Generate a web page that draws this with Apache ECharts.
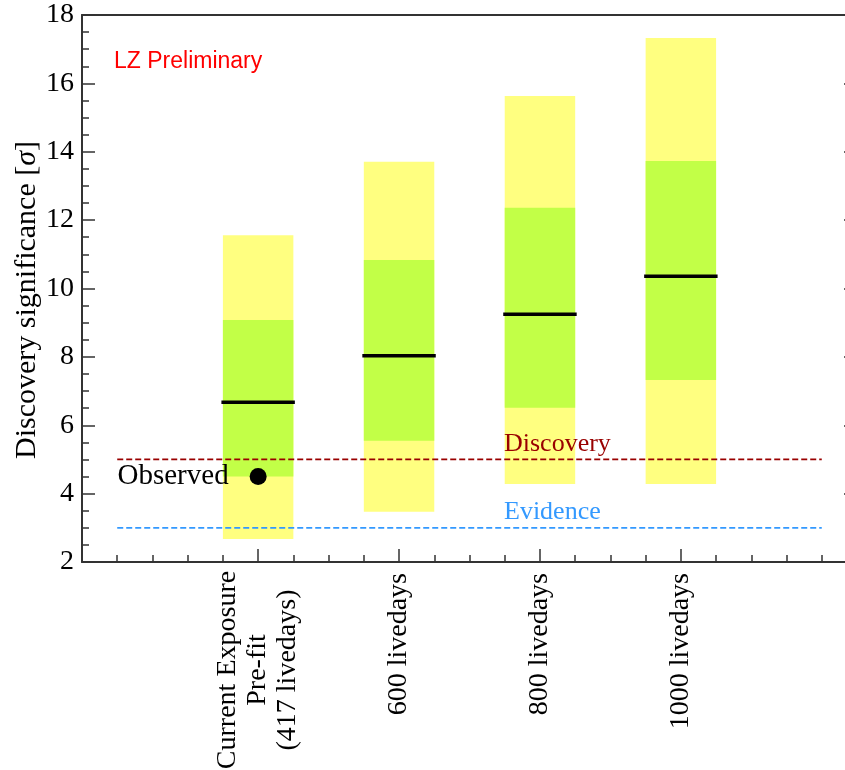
<!DOCTYPE html>
<html>
<head>
<meta charset="utf-8">
<script src="https://cdn.jsdelivr.net/npm/echarts@6/dist/echarts.min.js"></script>
<style>
  html, body { margin: 0; padding: 0; background: #ffffff; }
  #chart { width: 845px; height: 770px; }
</style>
</head>
<body>
<div id="chart"></div>
<script>
// Exposure scenarios and their positions on the x axis
const categories = ['Current Exposure\nPre-fit\n(417 livedays)', '600 livedays', '800 livedays', '1000 livedays'];
const positions = [1, 2, 3, 4];

// Expected discovery significance [sigma]: median and 1/2-sigma bands
const median    = [6.67, 8.03, 9.25, 10.36];
const band1Low  = [4.50, 5.55, 6.51, 7.32];
const band1High = [9.08, 10.83, 12.36, 13.73];
const band2Low  = [2.67, 3.47, 4.28, 4.28];
const band2High = [11.56, 13.71, 15.63, 17.33];

// Observed significance for the current exposure
const observedX = [1];
const observedY = [4.5];

// Reference thresholds
const thresholdNames  = ['Discovery', 'Evidence'];
const thresholdLevels = [5, 3];
const thresholdSpan   = [0, 5];

// Axis ticks
const yTickValues = [2, 4, 6, 8, 10, 12, 14, 16, 18];
const xMinorTicks = [0, 0.25, 0.5, 0.75, 1, 1.25, 1.5, 1.75, 2, 2.25, 2.5, 2.75, 3, 3.25, 3.5, 3.75, 4, 4.25, 4.5, 4.75, 5];

const SERIF = "'Liberation Serif', 'Times New Roman', 'DejaVu Serif', serif";
const SANS = "'Liberation Sans', Arial, sans-serif";
const AXIS_COLOR = '#333333';
const YELLOW = '#ffff80';
const GREEN = '#c2ff47';
const BAND_HALF = 0.25;

const bandData = positions.map((p, i) => [p, band2Low[i], band1Low[i], median[i], band1High[i], band2High[i]]);

function renderBand(params, api) {
  const x = api.value(0);
  const lo2 = api.value(1), lo1 = api.value(2), med = api.value(3), hi1 = api.value(4), hi2 = api.value(5);
  const yTL = api.coord([x - BAND_HALF, hi2]);
  const yBR = api.coord([x + BAND_HALF, lo2]);
  const gTL = api.coord([x - BAND_HALF, hi1]);
  const gBR = api.coord([x + BAND_HALF, lo1]);
  const mL = api.coord([x - BAND_HALF, med]);
  const mR = api.coord([x + BAND_HALF, med]);
  return {
    type: 'group',
    children: [
      { type: 'rect', shape: { x: yTL[0], y: yTL[1], width: yBR[0] - yTL[0], height: yBR[1] - yTL[1] }, style: { fill: YELLOW } },
      { type: 'rect', shape: { x: gTL[0], y: gTL[1], width: gBR[0] - gTL[0], height: gBR[1] - gTL[1] }, style: { fill: GREEN } },
      { type: 'line', shape: { x1: mL[0] - 1.5, y1: mL[1], x2: mR[0] + 1.5, y2: mR[1] }, style: { stroke: '#000000', lineWidth: 3.5 } }
    ]
  };
}

const thresholdColors = ['#990000', '#3399ff'];

const chart = echarts.init(document.getElementById('chart'), null, { renderer: 'canvas' });

const tickCommon = { inside: true, lineStyle: { color: AXIS_COLOR, width: 1.5 } };
const frameLine = { show: true, onZero: false, lineStyle: { color: AXIS_COLOR, width: 2 } };

const option = {
  backgroundColor: '#ffffff',
  animation: false,
  grid: { left: 82, top: 15, width: 775, height: 547, outerBoundsMode: 'none', containLabel: false },
  xAxis: [
    {
      type: 'value', position: 'bottom', min: -0.25, max: 5.25,
      axisLine: frameLine,
      axisTick: Object.assign({ show: true, length: 13, customValues: positions }, tickCommon),
      splitLine: { show: false },
      axisLabel: {
        show: true, customValues: positions, rotate: 90, margin: 11,
        color: '#000000', fontFamily: SERIF, fontSize: 28, lineHeight: 30,
        formatter: function (v) {
          const idx = positions.indexOf(Math.round(v));
          if (idx < 0) return '';
          const text = categories[idx];
          if (text.indexOf('\n') < 0) return text;
          return text.split('\n').map(s => '{c|' + s + '}').join('\n');
        },
        rich: { c: { width: 194, align: 'center', fontFamily: SERIF, fontSize: 28, lineHeight: 30, color: '#000000' } }
      }
    },
    {
      type: 'value', position: 'bottom', min: -0.25, max: 5.25,
      axisLine: { show: false, onZero: false },
      axisTick: Object.assign({ show: true, length: 7, customValues: xMinorTicks }, tickCommon),
      axisLabel: { show: false },
      splitLine: { show: false }
    },
    {
      type: 'value', position: 'top', min: -0.25, max: 5.25,
      axisLine: frameLine,
      axisTick: { show: false },
      axisLabel: { show: false },
      splitLine: { show: false }
    }
  ],
  yAxis: [
    {
      type: 'value', position: 'left', min: 2, max: 18, interval: 2,
      axisLine: frameLine,
      axisTick: Object.assign({ show: true, length: 13 }, tickCommon),
      minorTick: { show: true, splitNumber: 4, length: 7, lineStyle: { color: AXIS_COLOR, width: 1.5 } },
      splitLine: { show: false },
      minorSplitLine: { show: false },
      axisLabel: {
        show: true, margin: 8, color: '#000000', fontFamily: SERIF, fontSize: 28,
        customValues: yTickValues
      }
    },
    {
      type: 'value', position: 'right', min: 2, max: 18, interval: 2,
      axisLine: frameLine,
      axisTick: Object.assign({ show: true, length: 13 }, tickCommon),
      minorTick: { show: true, splitNumber: 4, length: 7, lineStyle: { color: AXIS_COLOR, width: 1.5 } },
      splitLine: { show: false },
      axisLabel: { show: false }
    }
  ],
  series: [
    {
      type: 'custom', name: 'bands', xAxisIndex: 0, yAxisIndex: 0,
      renderItem: renderBand, data: bandData, z: 2,
      encode: { x: 0, y: [1, 2, 3, 4, 5] }
    },
    ...thresholdLevels.map((lvl, i) => ({
      type: 'line', name: thresholdNames[i], xAxisIndex: 0, yAxisIndex: 0,
      data: thresholdSpan.map(x => [x, lvl]),
      symbol: 'none', silent: true, z: 3,
      lineStyle: { color: thresholdColors[i], width: 1.8, type: [6, 3] }
    })),
    {
      type: 'scatter', name: 'Observed', xAxisIndex: 0, yAxisIndex: 0,
      data: observedX.map((x, i) => [x, observedY[i]]),
      symbol: 'circle', symbolSize: 17, z: 4,
      itemStyle: { color: '#000000', opacity: 1 },
      label: {
        show: true, position: 'left', distance: 21,
        formatter: 'Observed', color: '#000000', fontFamily: SERIF, fontSize: 29
      }
    }
  ],
  graphic: [
    {
      type: 'text', left: 114, top: 50, z: 100,
      style: { text: 'LZ Preliminary', fill: '#ff0000', font: '23px ' + SANS }
    },
    {
      type: 'text', x: 504, y: 457, z: 100,
      style: { text: thresholdNames[0], fill: thresholdColors[0], font: '26px ' + SERIF, textAlign: 'left', textVerticalAlign: 'bottom' }
    },
    {
      type: 'text', x: 504, y: 525, z: 100,
      style: { text: thresholdNames[1], fill: thresholdColors[1], font: '26px ' + SERIF, textAlign: 'left', textVerticalAlign: 'bottom' }
    },
    {
      type: 'text', x: 27, y: 300, rotation: Math.PI / 2, z: 100,
      style: {
        text: 'Discovery significance [{i|σ}]',
        fill: '#000000', font: '30px ' + SERIF, textAlign: 'center', textVerticalAlign: 'middle',
        rich: { i: { fontStyle: 'italic', fontFamily: SERIF, fontSize: 30, fill: '#000000' } }
      }
    }
  ]
};

chart.setOption(option);
</script>
</body>
</html>
